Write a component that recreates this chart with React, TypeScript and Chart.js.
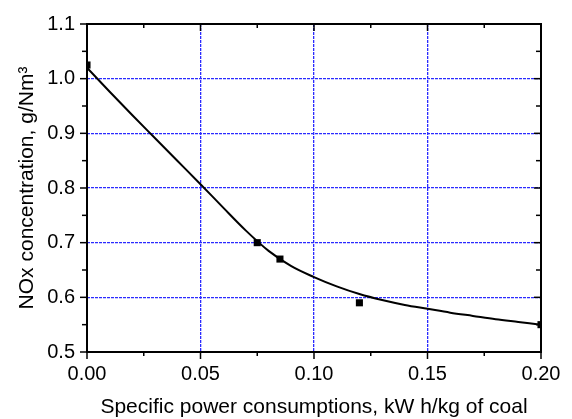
import React, { useEffect, useRef } from 'react';
import { Chart, registerables } from 'chart.js';

Chart.register(...registerables);

// Measured points
const POINT_X = [0, 0.075, 0.085, 0.12, 0.2];
const POINT_Y = [1.025, 0.7, 0.67, 0.59, 0.55];

// Fitted curve
const CURVE_X = [0, 0.01, 0.02, 0.03, 0.04, 0.05, 0.06, 0.07, 0.08, 0.09, 0.1, 0.11, 0.12, 0.13, 0.14, 0.15, 0.16, 0.17, 0.18, 0.19, 0.2];
const CURVE_Y = [1.02, 0.976, 0.933, 0.891, 0.849, 0.807, 0.764, 0.722, 0.685, 0.657, 0.637, 0.62, 0.606, 0.595, 0.586, 0.579, 0.572, 0.566, 0.56, 0.555, 0.55];

// Ticks
const X_MAJOR = [0, 0.05, 0.1, 0.15, 0.2];
const X_LABELS = ['0.00', '0.05', '0.10', '0.15', '0.20'];
const X_MINOR = [0.025, 0.075, 0.125, 0.175];
const Y_MAJOR = [0.5, 0.6, 0.7, 0.8, 0.9, 1.0, 1.1];
const Y_LABELS = ['0.5', '0.6', '0.7', '0.8', '0.9', '1.0', '1.1'];
const Y_MINOR = [0.55, 0.65, 0.75, 0.85, 0.95, 1.05];

const X_TITLE = 'Specific power consumptions, kW h/kg of coal';
const Y_TITLE = 'NOx concentration, g/Nm³';

const FONT = 'Liberation Sans, Arial, Helvetica, sans-serif';

const frameTicksPlugin = {
  id: 'frameTicks',
  afterDraw(chart: any) {
    const { ctx, chartArea: a, scales } = chart;
    const xs = scales.x;
    const ys = scales.y;
    ctx.save();
    ctx.strokeStyle = '#000';
    const line = (x1: number, y1: number, x2: number, y2: number) => {
      ctx.beginPath();
      ctx.moveTo(x1, y1);
      ctx.lineTo(x2, y2);
      ctx.stroke();
    };
    ctx.lineWidth = 1.5;
    X_MAJOR.forEach((v) => {
      const p = xs.getPixelForValue(v);
      line(p, a.bottom, p, a.bottom + 7);
      line(p, a.top, p, a.top + 7);
    });
    X_MINOR.forEach((v) => {
      const p = xs.getPixelForValue(v);
      line(p, a.bottom, p, a.bottom + 4);
      line(p, a.top, p, a.top + 4);
    });
    Y_MAJOR.forEach((v) => {
      const p = ys.getPixelForValue(v);
      line(a.left - 7, p, a.left, p);
      line(a.right, p, a.right - 7, p);
    });
    Y_MINOR.forEach((v) => {
      const p = ys.getPixelForValue(v);
      line(a.left - 5, p, a.left, p);
      line(a.right, p, a.right - 5, p);
    });
    ctx.lineWidth = 2;
    ctx.strokeRect(a.left, a.top, a.right - a.left, a.bottom - a.top);
    ctx.restore();
  },
};

export default function App() {
  const canvasRef = useRef<HTMLCanvasElement | null>(null);

  useEffect(() => {
    const canvas = canvasRef.current;
    if (!canvas) return;
    const gridColor = (n: number) => (c: any) =>
      c.index === 0 || c.index === n - 1 ? 'rgba(0,0,0,0)' : '#2b2bff';

    const chart = new Chart(canvas, {
      type: 'scatter',
      data: {
        datasets: [
          {
            label: 'fit',
            data: CURVE_X.map((x, i) => ({ x, y: CURVE_Y[i] })),
            showLine: true,
            borderColor: '#000',
            borderWidth: 2,
            pointRadius: 0,
            cubicInterpolationMode: 'monotone',
            fill: false,
          } as any,
          {
            label: 'data',
            data: POINT_X.map((x, i) => ({ x, y: POINT_Y[i] })),
            showLine: false,
            pointStyle: 'rect',
            pointRadius: 5,
            backgroundColor: '#000',
            borderColor: '#000',
            borderWidth: 0,
            clip: 0,
          } as any,
        ],
      },
      options: {
        animation: false,
        responsive: false,
        events: [],
        layout: { padding: { top: 20, right: 31, left: 0, bottom: 0 } },
        plugins: { legend: { display: false }, tooltip: { enabled: false } },
        scales: {
          x: {
            type: 'linear',
            min: 0,
            max: 0.2,
            afterBuildTicks: (s: any) => {
              s.ticks = X_MAJOR.map((v) => ({ value: v }));
            },
            afterFit: (s: any) => {
              s.height = 67;
            },
            ticks: {
              autoSkip: false,
              maxRotation: 0,
              padding: 10,
              color: '#000',
              font: { family: FONT, size: 20 },
              callback: (_v: any, i: number) => X_LABELS[i],
            },
            grid: { drawTicks: false, color: gridColor(X_MAJOR.length), lineWidth: 1.3 },
            border: { display: false, dash: [3, 1] },
            title: {
              display: true,
              text: X_TITLE,
              color: '#000',
              font: { family: FONT, size: 21, lineHeight: 1 },
              padding: { top: 0, bottom: 1 },
            },
          },
          y: {
            type: 'linear',
            min: 0.5,
            max: 1.1,
            afterBuildTicks: (s: any) => {
              s.ticks = Y_MAJOR.map((v) => ({ value: v }));
            },
            afterFit: (s: any) => {
              s.width = 87;
            },
            ticks: {
              autoSkip: false,
              padding: 12,
              color: '#000',
              font: { family: FONT, size: 20 },
              callback: (_v: any, i: number) => Y_LABELS[i],
            },
            grid: { drawTicks: false, color: gridColor(Y_MAJOR.length), lineWidth: 1.3 },
            border: { display: false, dash: [3, 1] },
            title: {
              display: true,
              text: Y_TITLE,
              color: '#000',
              font: { family: FONT, size: 21, lineHeight: 1 },
              padding: { top: 17, bottom: 0 },
            },
          },
        },
      } as any,
      plugins: [frameTicksPlugin],
    });
    return () => chart.destroy();
  }, []);

  return (
    <div style={{ position: 'fixed', left: 0, top: 0, width: 572, height: 419, background: '#fff' }}>
      <canvas ref={canvasRef} width={572} height={419} style={{ display: 'block' }} />
    </div>
  );
}
